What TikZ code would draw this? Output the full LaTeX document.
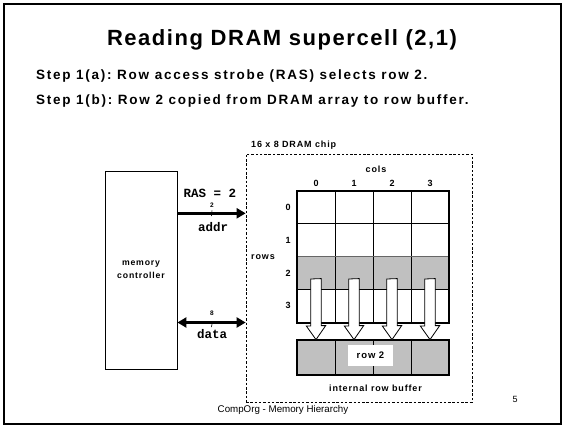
\documentclass[tikz,border=0pt]{standalone}
\usepackage{fontspec}
\setmainfont{Liberation Sans}[BoldFeatures={LetterSpace=9.5}]
\newfontfamily\titlefont{Liberation Sans Bold}[LetterSpace=7]
\newfontfamily\stepfont{Liberation Sans Bold}[LetterSpace=13]
\setmonofont{Liberation Mono}
\usetikzlibrary{arrows.meta}
\frenchspacing
\definecolor{cellgray}{RGB}{192,192,192}
\tikzset{
  lbl/.style={font=\bfseries\fontsize{9}{11}\selectfont, inner sep=0pt},
  tinylbl/.style={font=\bfseries\fontsize{6.5}{7}\selectfont, inner sep=0pt},
  codelbl/.style={font=\ttfamily\bfseries\fontsize{12.5}{14}\selectfont, inner sep=0pt},
  steplbl/.style={font=\stepfont\fontsize{13.5}{15}\selectfont, anchor=west, inner sep=0pt},
  cell/.style={draw, line width=0.8pt, minimum width=38pt, minimum height=32.75pt, inner sep=0pt},
  bus/.style={line width=2.6pt},
  blockarrow/.style={draw, line width=0.8pt, fill=white},
  chipline/.style={draw, line width=0.7pt, dash pattern=on 2.5pt off 1.8pt},
}
\begin{document}
\begin{tikzpicture}[x=1pt, y=-1pt]
\useasboundingbox (0,0) rectangle (564,427);
% slide frame
\draw[line width=2pt] (3.5,4.5) rectangle (560.5,424);

% title and steps
\node[font=\titlefont\fontsize{22}{26}\selectfont, inner sep=0pt] (title) at (282,40) {Reading DRAM supercell (2,1)};
\node[steplbl] (stepa) at (36,76.5) {Step 1(a): Row access strobe (RAS) selects row 2.};
\node[steplbl] (stepb) at (36,101) {Step 1(b): Row 2 copied from DRAM array to row buffer.};

% memory controller
\node[draw, line width=0.8pt, minimum width=72pt, minimum height=198pt, inner sep=0pt, align=center, font=\bfseries\fontsize{8.7}{13}\selectfont] (mc) at (141,270) {memory\\controller};

% DRAM chip outline
\node[chipline, minimum width=226pt, minimum height=248pt, inner sep=0pt] (chip) at (359,278) {};
\node[lbl, anchor=west] (chiplbl) at (251,145) {16 x 8 DRAM chip};

% row 2 shading
\fill[cellgray] (297,256) rectangle (449,289);

% cell array
\foreach \r/\y in {0/207.5, 1/240.25, 2/273, 3/305.75}{
  \foreach \c/\x in {0/316, 1/354, 2/392, 3/430}{
    \node[cell] (c-\r-\c) at (\x,\y) {};
  }
  \node[lbl] (rl-\r) at (288,\y) {\r};
}
\draw[line width=0.8pt, draw=black!60] (297,256) -- (449,256);
\draw[line width=2pt] (c-0-0.north west) rectangle (c-3-3.south east);
\foreach \c/\x in {0/316, 1/354, 2/392, 3/430}{
  \node[lbl] (cl-\c) at (\x,183) {\c};
}
\node[lbl] (cols) at (376,169) {cols};
\node[lbl, anchor=west] (rows) at (251,257) {rows};

% internal row buffer
\foreach \c/\x in {0/316, 1/354, 2/392, 3/430}{
  \node[cell, fill=cellgray, minimum height=35pt] (b-\c) at (\x,357.5) {};
}
\draw[line width=2pt] (b-0.north west) rectangle (b-3.south east);
\node[fill=white, minimum width=45pt, minimum height=21pt, inner sep=0pt, font=\bfseries\fontsize{9.5}{11}\selectfont] (rowlbl) at (370.5,355.5) {row 2};
\node[lbl] (buflbl) at (375.5,388) {internal row buffer};

% copy arrows from row 2 to the buffer
\foreach \c in {0,1,2,3}{
  \path (c-2-\c.center) ++(0,6) coordinate (s-\c);
  \draw[blockarrow] (s-\c) ++(-5.2,0) -- ++(0,47) -- ++(-4.5,0)
     -- (b-\c.north) -- ++(9.7,-14) -- ++(-4.5,0) -- ++(0,-47) -- cycle;
}

% address bus
\coordinate (addrY) at (0,213.3);
\draw[bus, -{Triangle[length=9pt, width=10pt]}] (mc.east |- addrY) -- (chip.west |- addrY);
\draw[line width=0.6pt] (212,210.5) -- (211.5,216);
\node[tinylbl] (addrw) at (212,205) {2};
\node[codelbl] (ras) at (210,193) {RAS = 2};
\node[codelbl] (addr) at (213,227) {addr};

% data bus
\coordinate (dataY) at (0,322.5);
\draw[bus, {Triangle[length=9pt, width=10pt]}-{Triangle[length=9pt, width=10pt]}] (mc.east |- dataY) -- (chip.west |- dataY);
\draw[line width=0.6pt] (212,324) -- (211.5,327);
\node[tinylbl] (dataw) at (212,313.5) {8};
\node[codelbl] (data) at (212,334) {data};

% footer
\node[font=\fontsize{9.75}{11}\selectfont, inner sep=0pt] (footer) at (283,410) {CompOrg - Memory Hierarchy};
\node[font=\fontsize{9}{10}\selectfont, inner sep=0pt] (pageno) at (515,399) {5};
\end{tikzpicture}
\end{document}
